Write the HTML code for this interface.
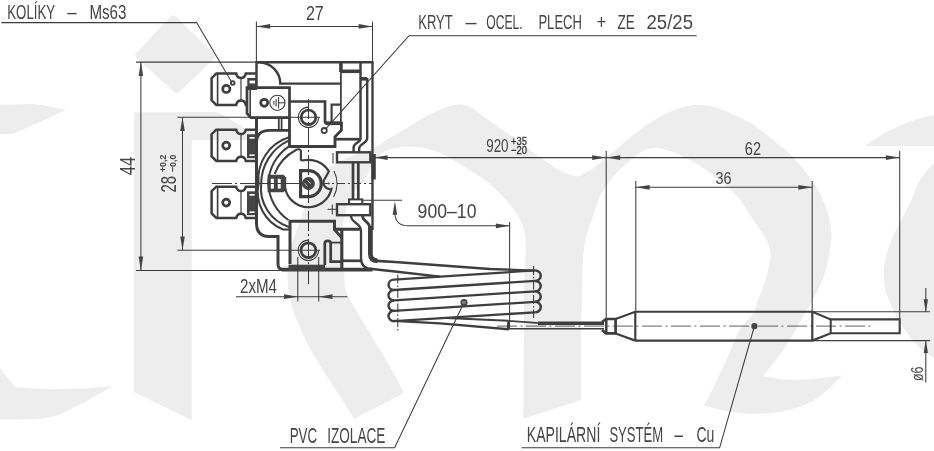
<!DOCTYPE html>
<html><head><meta charset="utf-8"><title>Termostat</title>
<style>
html,body{margin:0;padding:0;background:#fff}
svg{display:block}
text{font-family:"Liberation Sans",sans-serif;fill:#444}
.wm{fill:#ededed;stroke:none}
.k{fill:none;stroke:#3e3e3e;stroke-linecap:butt;stroke-linejoin:miter}
.t{fill:none;stroke:#3c3c3c;stroke-width:1.05}
.f{fill:#444;stroke:none}
.wf{fill:#fff;stroke:none}
</style></head><body>
<svg width="934" height="451" viewBox="0 0 934 451">
<rect width="934" height="451" fill="#fff"/>
<g class="wm">
<path d="M0,105 L30,104 Q50,105.5 66,110 L40,122 Q25,129 12,134 L0,134.3 Z"/>
<path d="M0,368 L15,386.9 C40,389.5 80,390 111.7,385.9 C95,397 70,410 55.9,415.8 C45,419 30,419.8 0,419.8 Z"/>
<path d="M136.5,53 L170.5,16.5 Q173,14 175.7,16.5 L214,53.5 Q216.5,56 214,58.8 L179,92 Q176.5,94.5 174,92 L136.5,58 Q134,55.5 136.5,53 Z"/>
<path d="M134.2,112.2 L218.5,112.2 L263.5,140.1 L191.8,140.1 L191.8,420.3 L134.2,392.2 Z"/>
<path d="M354.3,418.8 C348.4,409.6 327.7,378.1 318.8,363.3 C309.9,348.5 305.8,340.7 301.0,330.0 C296.2,319.3 292.2,308.8 290.0,299.0 C287.8,289.2 287.5,279.2 287.5,271.0 C287.5,262.8 288.8,256.0 290.0,250.0 C291.2,244.0 293.3,239.8 295.0,235.0 C296.7,230.2 298.3,225.7 300.0,221.0 C301.7,216.3 303.2,211.7 305.0,207.0 C306.8,202.3 307.5,199.2 311.0,193.0 C314.5,186.8 319.5,176.0 326.0,170.0 C332.5,164.0 342.1,160.6 350.0,157.0 C357.9,153.4 367.2,151.1 373.5,148.2 C379.8,145.2 382.4,142.6 387.7,139.3 C393.0,136.1 399.6,132.2 405.5,128.7 C411.4,125.1 417.3,121.2 423.2,118.0 C429.1,114.8 436.0,111.3 441.0,109.2 C446.0,107.1 449.9,106.0 453.4,105.3 C456.9,104.6 459.2,104.4 462.2,104.8 C465.1,105.2 467.6,105.5 471.1,107.4 C474.7,109.3 479.6,113.5 483.5,116.3 C487.4,119.1 490.1,121.3 494.2,124.3 C498.3,127.2 502.4,129.7 508.4,134.0 C514.4,138.3 522.0,144.3 530.0,150.0 C538.0,155.7 549.6,164.3 556.4,168.4 C563.2,172.5 568.2,173.6 570.6,174.7 L577.7,176.5 C580.2,175.2 588.2,171.7 593.0,168.5 C597.8,165.3 601.8,161.2 606.2,157.5 C610.6,153.8 614.5,150.7 619.5,146.5 C624.5,142.3 630.7,136.8 636.2,132.5 C641.8,128.2 647.3,124.4 652.8,121.0 C658.3,117.6 663.9,114.4 669.4,112.0 C674.9,109.6 681.6,107.8 686.0,106.6 C690.4,105.4 692.1,105.1 696.0,105.0 C699.9,104.9 704.3,105.0 709.3,106.0 C714.3,107.0 718.7,107.9 726.0,111.0 C733.3,114.1 744.7,119.3 753.0,124.6 C761.3,129.8 769.5,137.3 776.0,142.5 C782.5,147.7 785.6,149.1 792.0,156.0 C798.4,162.9 808.8,175.2 814.5,184.0 C820.2,192.8 823.7,201.0 826.5,209.0 C829.3,217.0 830.8,225.0 831.3,232.0 C831.8,239.0 830.5,245.1 829.7,251.0 C828.9,256.9 828.0,262.3 826.5,267.7 C825.0,273.1 823.4,277.8 821.0,283.3 C818.6,288.9 815.0,295.5 812.0,301.0 C809.0,306.5 806.2,311.3 803.2,316.5 C800.2,321.7 797.6,326.4 794.3,332.0 C791.0,337.6 788.5,342.6 783.3,350.0 C778.0,357.4 766.2,371.9 762.8,376.3 C766.7,376.9 778.1,379.3 786.0,379.8 C793.9,380.3 800.7,379.9 810.0,379.2 C819.3,378.5 836.7,376.1 842.0,375.5 C839.7,377.8 833.3,385.0 828.0,389.5 C822.7,394.0 817.0,398.8 810.0,402.3 C803.0,405.8 794.1,408.8 785.8,410.7 C777.4,412.6 769.2,413.5 759.9,413.7 C750.6,413.9 739.3,413.0 730.0,411.7 C720.7,410.4 708.6,406.6 704.3,405.6 C706.6,401.0 713.7,386.9 718.0,378.0 C722.3,369.1 726.5,359.8 730.0,352.0 C733.5,344.2 735.3,337.3 739.0,331.0 C742.7,324.7 749.1,319.3 752.2,314.3 C755.3,309.3 755.8,306.2 757.8,301.0 C759.8,295.8 762.6,288.9 764.4,283.3 C766.2,277.8 767.8,272.6 768.8,267.7 C769.8,262.8 770.7,258.3 770.5,254.0 C770.3,249.7 769.4,246.0 767.5,241.7 C765.6,237.4 762.0,232.6 759.0,228.0 C756.0,223.4 752.8,218.9 749.5,214.0 C746.2,209.1 742.9,203.2 739.0,198.5 C735.1,193.8 730.9,190.3 726.0,186.0 C721.1,181.7 715.8,176.8 709.7,172.5 C703.7,168.2 696.4,163.6 689.7,160.0 C683.1,156.4 675.8,153.0 669.8,151.0 C663.8,149.0 658.8,147.7 653.8,148.0 C648.8,148.3 644.6,150.3 640.0,153.0 C635.4,155.7 630.7,159.8 626.0,164.0 C621.3,168.2 616.3,172.7 612.0,178.0 C607.7,183.3 603.1,189.7 600.0,195.8 C596.9,201.9 595.9,207.8 593.6,214.5 C591.4,221.2 588.3,228.6 586.5,235.7 C584.7,242.8 583.8,246.3 583.0,257.0 C582.2,267.7 582.3,287.8 582.0,300.0 C581.7,312.2 581.2,313.3 581.0,330.0 C580.8,346.7 581.0,388.3 581.0,400.0 L523.5,418.7 C523.6,398.9 523.7,327.5 524.0,300.0 C524.3,272.5 525.4,264.8 525.5,253.5 C525.6,242.2 525.9,238.5 524.5,232.0 C523.1,225.5 521.0,220.4 517.4,214.5 C513.8,208.6 508.3,202.4 503.0,196.7 C497.7,191.0 491.1,184.9 485.5,180.5 C479.9,176.1 473.4,172.7 469.3,170.0 C465.2,167.3 463.6,166.1 461.0,164.5 C458.4,162.9 456.7,162.0 453.4,160.2 C450.1,158.4 445.1,155.3 441.0,153.5 C436.9,151.7 432.9,150.2 428.5,149.1 C424.1,148.0 418.7,147.3 414.3,147.0 C409.9,146.7 406.1,146.6 402.0,147.0 C397.9,147.4 393.3,148.4 390.0,149.5 C386.7,150.6 384.7,151.4 382.0,153.5 C379.3,155.6 376.8,157.8 374.0,162.0 C371.2,166.2 369.5,172.5 365.5,178.5 C361.5,184.5 353.8,190.2 350.0,198.0 C346.2,205.8 344.3,216.3 343.0,225.0 C341.7,233.7 341.8,242.3 342.0,250.0 C342.2,257.7 343.4,264.3 344.0,271.0 C344.6,277.7 344.2,284.7 345.5,290.0 C346.8,295.3 348.6,296.8 352.0,303.0 C355.4,309.2 360.4,317.7 366.0,327.0 C371.6,336.3 379.0,347.8 385.4,358.8 C391.8,369.8 401.1,387.1 404.3,392.8 Z"/>
<path d="M934,115 C907,120 884,132 864.6,146 L934,146 Z"/>
<path d="M934.0,163.0 C931.7,165.8 924.0,173.3 920.0,180.0 C916.0,186.7 914.7,193.2 910.0,203.0 C905.3,212.8 896.2,229.2 892.0,239.0 C887.8,248.8 886.3,256.0 885.0,262.0 C883.7,268.0 883.7,269.5 884.0,275.0 C884.3,280.5 884.3,287.2 887.0,295.0 C889.7,302.8 895.0,313.7 900.0,322.0 C905.0,330.3 911.3,339.0 917.0,345.0 C922.7,351.0 931.2,355.8 934.0,358.0 Z"/>
</g>
<g id="body">
<path class="k" stroke-width="2.52" d="M256,73.6 L245.8,73.6 C244.5,79.4 237.5,79.4 236.2,73.6 L216.3,73.6 L211.6,78.2 L211.6,100.3 L216.3,104.9 L236.2,104.9 C237.5,99.1 244.5,99.1 245.8,104.9 L247,104.9" />
<path class="k" stroke-width="1.63" d="M217.6,73.6 L217.6,104.9"/>
<path class="k" stroke-width="1.22" d="M241.0,77.8 L241.0,100.7"/>
<rect class="f" x="247.3" y="78.0" width="9.7" height="12.0"/>
<rect class="wf" x="249.5" y="80.6" width="5.8" height="2.8"/>
<circle class="k" stroke-width="2.72" cx="226.3" cy="88.9" r="3.6"/>
<circle class="k" stroke-width="1.90" cx="232.7" cy="82.9" r="1.8"/>
<path class="k" stroke-width="2.52" d="M256,129.7 L245.8,129.7 C244.5,135.5 237.5,135.5 236.2,129.7 L216.3,129.7 L211.6,134.2 L211.6,156.4 L216.3,161.0 L236.2,161.0 C237.5,155.2 244.5,155.2 245.8,161.0 L256,161.0" />
<path class="k" stroke-width="1.63" d="M217.6,129.7 L217.6,161.0"/>
<path class="k" stroke-width="1.22" d="M241.0,133.8 L241.0,156.8"/>
<rect class="f" x="247.0" y="134.3" width="9.5" height="23.9"/>
<rect class="wf" x="249.5" y="137.0" width="5.1" height="1.7"/>
<rect class="wf" x="249.5" y="154.4" width="5.1" height="1.6"/>
<circle class="k" stroke-width="2.72" cx="226.2" cy="145.6" r="3.5"/>
<path class="k" stroke-width="2.52" d="M256,186.7 L245.8,186.7 C244.5,192.5 237.5,192.5 236.2,186.7 L216.3,186.7 L211.6,191.2 L211.6,213.4 L216.3,218.0 L236.2,218.0 C237.5,212.2 244.5,212.2 245.8,218.0 L256,218.0" />
<path class="k" stroke-width="1.63" d="M217.6,186.7 L217.6,218.0"/>
<path class="k" stroke-width="1.22" d="M241.0,190.8 L241.0,213.8"/>
<rect class="f" x="247.0" y="191.3" width="9.5" height="23.9"/>
<rect class="wf" x="249.5" y="194.0" width="5.1" height="1.7"/>
<rect class="wf" x="249.5" y="211.4" width="5.1" height="1.6"/>
<circle class="k" stroke-width="2.72" cx="226.2" cy="202.6" r="3.5"/>
<path class="k" stroke-width="2.45" d="M256.5,88 L256.5,62.3 L260,62.3 A22,21.3 0 0 1 280.3,83.6 L340.9,83.6" />
<path class="k" stroke-width="2.58" d="M256.0,62.3 L373.3,62.3"/>
<path class="k" stroke-width="2.38" d="M372.5,61.5 L372.5,230.0"/>
<path class="k" stroke-width="3.54" d="M340.9,62.3 L340.9,72.0"/>
<path class="k" stroke-width="1.77" d="M340.9,72.0 L340.9,127.0"/>
<path class="k" stroke-width="3.54" d="M340.9,71.3 L361.0,71.3"/>
<path class="k" stroke-width="2.45" d="M360.5,62.3 L360.5,138.6 C360.5,143 353.6,142.5 353.6,147.5 L353.6,152" />
<path class="k" stroke-width="3.54" d="M360.5,78.8 L367.2,78.8" />
<path class="k" stroke-width="2.38" d="M367.2,78 L367.2,138.6 C367.2,143.5 359.2,143.5 359.2,148.5 L359.2,152" />
<path class="k" stroke-width="2.72" d="M247,87.6 L289.5,87.6 L289.5,117.6 L251,117.6 L247,113.5 Z" />
<path class="k" stroke-width="1.63" d="M250.2,87.6 L250.2,116.0"/>
<circle class="k" stroke-width="2.72" cx="264.2" cy="102.8" r="3.5"/>
<circle class="t" cx="277.4" cy="102.8" r="7.6"/>
<path class="t" d="M273.9,100.8 L273.9,104.8"/>
<path class="t" d="M276.1,99.1 L276.1,106.5"/>
<path class="t" d="M278.6,97.1 L278.6,108.5"/>
<path class="t" d="M278.6,102.8 L285.0,102.8"/>
<path class="k" stroke-width="2.86" d="M289.5,117 L289.5,146.5 L335,146.5 L335,136.8 L341.4,130.2 L341.4,122" />
<path class="k" stroke-width="2.72" d="M289.5,101.5 L325,101.5 L325,121.5 Q325,123.6 327.5,123.6 L341.4,123.6" />
<path class="k" stroke-width="3.81" d="M326.0,123.2 L342.3,123.2"/>
<path class="k" stroke-width="2.18" d="M331.6,122 L331.6,104.7 L341,104.7" />
<path class="k" stroke-width="2.72" d="M335.0,139.2 L361.0,139.2"/>
<circle class="k" stroke-width="2.72" cx="308.5" cy="117.3" r="7.3"/>
<path class="t" d="M308.5,107.1 A10.2,10.2 0 1 0 318.7,117.3"/>
<circle class="k" stroke-width="1.77" cx="324.2" cy="130.6" r="2.6"/>
<path class="k" stroke-width="2.99" d="M256.5,117 L256.5,223 Q256.5,236.4 269,236.4 L278,236.4 L278,264 Q278,269.5 283,269.5" />
<path class="k" stroke-width="2.72" d="M256.5,143 Q256.5,130.3 269.5,130.3 L289.5,130.3" />
<path class="k" stroke-width="1.77" d="M278.8,118.0 L278.8,130.3"/>
<path class="k" stroke-width="1.77" d="M281.6,118.0 L281.6,130.3"/>
<path class="k" stroke-width="2.04" d="M289.00,137.30 A43.55,43.55 0 0 0 258.60,183.50 A40.66,40.66 0 0 0 283.00,229.50 L290,229.5" />
<path class="k" stroke-width="2.04" d="M288.60,140.60 A47.59,47.59 0 0 0 261.20,183.50 A40.71,40.71 0 0 0 289.00,227.00" />
<path class="k" stroke-width="2.04" d="M288.60,146.60 A46.19,46.19 0 0 0 268.30,183.50 A46.13,46.13 0 0 0 288.50,220.00" />
<path class="k" stroke-width="2.04" d="M300.90,150.30 A4.11,4.11 0 0 0 296.00,150.00 A45.14,45.14 0 0 0 274.60,174.00" />
<path class="f" d="M267.6,174.8 L283.5,174.8 L286.2,177.5 L286.2,189.5 L283.5,192.3 L267.6,192.3 Z"/>
<rect class="wf" x="270.8" y="178.8" width="3.1" height="9.8"/>
<rect class="wf" x="277.8" y="178.8" width="2.9" height="9.8"/>
<path class="k" stroke-width="2.18" d="M300.9,150.3 L300.9,159.3 Q301,160.6 303.7,160.3 A23.7,23.7 0 0 1 328.8,171.4 L324.7,178.9 A6.4,6.4 0 0 0 331.5,188.8 A23.7,23.7 0 0 1 285.1,188.0" />
<circle class="f" cx="328.8" cy="183.5" r="0.9"/>
<path class="k" stroke-width="3.2" stroke-linejoin="miter" d="M300.6,170.7 L300.6,196.6 L308.3,196.6 A12.95,12.95 0 0 0 308.3,170.7 Z"/>
<circle cx="308.4" cy="183.5" r="6.5" fill="#444"/>
<path d="M307.6,180.6 L310.6,183.8 M304.6,183.2 L307.4,186.4" stroke="#c8c8c8" stroke-width="1.0" fill="none"/>
<path class="t" d="M334.0,171.0 A28.5,28.5 0 0 1 333.6,196.9"/>
<rect class="k" stroke-width="2.4" x="337" y="152.3" width="33.3" height="10"/>
<path class="k" stroke-width="4.35" d="M373.6,154.0 L373.6,179.5"/>
<path class="k" stroke-width="2.72" d="M353.0,162.3 L353.0,199.3"/>
<path class="k" stroke-width="2.72" d="M358.3,162.3 L358.3,199.3"/>
<rect class="k" stroke-width="2.0" x="349" y="199.4" width="13.3" height="4.6"/>
<rect class="k" stroke-width="2.4" x="337" y="204.2" width="33.3" height="11"/>
<path class="t" d="M327.5,209.3 L337.0,209.3"/>
<path class="t" d="M332.3,204.5 L332.3,214.6"/>
<path class="t" d="M333.0,153.0 L333.0,163.5"/>
<path class="k" stroke-width="2.31" d="M351,216 C351.5,224 361,222 361,231 L361,258 Q361,268.8 372,269 L395,271.5" />
<path class="k" stroke-width="2.72" d="M362.3,216 C363,222 369.4,221 369.9,228" />
<path class="k" stroke-width="4.76" d="M370.4,226 L370.4,254 Q370.4,260.4 377.5,260.9" />
<path class="k" stroke-width="2.72" d="M376,260.9 L395,262" />
<path class="k" stroke-width="2.99" d="M290,264 L290,221.3 L334.5,221.3 L334.5,229.3 L360.5,229.3" />
<path class="k" stroke-width="2.72" d="M334.8,230 L341.8,237.8" />
<path class="k" stroke-width="3.13" d="M341.8,229.0 L341.8,268.6"/>
<path class="k" stroke-width="2.72" d="M341.8,260.8 L361.0,260.8"/>
<path class="k" stroke-width="1.77" d="M331.0,242.6 L341.8,242.6"/>
<path class="k" stroke-width="2.72" d="M324.8,265 L324.8,243.5 Q324.8,240.8 327.7,240.8 Q330.7,240.8 330.7,243.5 L330.7,261.6 L341.8,261.6" />
<circle class="k" stroke-width="2.72" cx="308.4" cy="250.3" r="7.4"/>
<path class="t" d="M308.4,240.1 A10.2,10.2 0 1 0 318.6,250.3"/>
<path class="k" stroke-width="3.81" d="M281.5,269.7 L372.5,269.7"/>
<rect class="f" x="288.5" y="264.7" width="36.5" height="6.3"/>
</g>
<g id="coil">
<path class="k" stroke-width="2.31" d="M395,262 L490,269.0 L534.5,270.6" />
<path class="k" stroke-width="2.31" d="M395,271.5 L440,276.6" />
<path class="k" stroke-width="2.31" d="M394.0,279.6 L535.2,270.4" />
<path class="k" stroke-width="2.31" d="M394.0,290.0 L535.2,280.9" />
<path class="k" stroke-width="2.31" d="M394.0,300.4 L535.2,291.3" />
<path class="k" stroke-width="2.31" d="M394.0,310.8 L535.2,301.8" />
<path class="k" stroke-width="2.31" d="M394.0,321.2 L535.2,312.3" />
<path class="k" stroke-width="2.45" d="M394.0,279.6 A5.5,5.2 0 0 0 394.0,290.0" />
<path class="k" stroke-width="2.45" d="M535.2,270.4 A5.5,5.2 0 0 1 535.2,280.9" />
<path class="k" stroke-width="2.45" d="M394.0,290.0 A5.5,5.2 0 0 0 394.0,300.4" />
<path class="k" stroke-width="2.45" d="M535.2,280.9 A5.5,5.2 0 0 1 535.2,291.3" />
<path class="k" stroke-width="2.45" d="M394.0,300.4 A5.5,5.2 0 0 0 394.0,310.8" />
<path class="k" stroke-width="2.45" d="M535.2,291.3 A5.5,5.2 0 0 1 535.2,301.8" />
<path class="k" stroke-width="2.45" d="M394.0,310.8 A5.5,5.2 0 0 0 394.0,321.2" />
<path class="k" stroke-width="2.45" d="M535.2,301.8 A5.5,5.2 0 0 1 535.2,312.3" />
<path class="t" d="M397.8,274.5 L397.8,331.5" stroke-dasharray="9 2 1.5 2"/>
<path class="t" d="M533.6,266.0 L533.6,318.0" stroke-dasharray="9 2 1.5 2"/>
<path class="k" stroke-width="2.04" d="M446,318.1 L508.5,320.8" />
<path class="k" stroke-width="2.18" d="M394,320.9 L440,323.3 L507.8,329.2 L508.4,320.8" />
<path class="k" stroke-width="1.77" d="M508.5,320.9 L540,323.1" />
<path class="k" stroke-width="3.40" d="M538.0,323.2 L604.0,323.2"/>
<path class="k" stroke-width="1.63" d="M507.5,328.8 L604.0,328.8"/>
<path d="M497,326.1 L873,326.1" fill="none" stroke="#444" stroke-width="0.85" stroke-dasharray="20 3.5 2 3.5"/>
<path class="k" stroke-width="2.72" d="M602,322 L606,319 L615.6,319 L615.6,333.4 L606,333.4 L602,330" />
<path class="k" stroke-width="2.45" d="M606.3,319.0 L606.3,333.4"/>
<path class="k" stroke-width="2.11" d="M615.6,319 L635.3,311.8 L812.3,311.8 L830.7,319.4 L899.7,319.4 L899.7,333.2 L830.7,333.2 L812.3,340.6 L635.3,340.6 L615.6,333.4" />
<path class="k" stroke-width="2.18" d="M635.3,311.8 L635.3,340.6"/>
<path class="k" stroke-width="2.18" d="M812.3,311.8 L812.3,340.6"/>
<path class="k" stroke-width="2.04" d="M830.7,319.4 L830.7,333.2"/>
<circle class="k" stroke-width="1.90" cx="464.0" cy="302.5" r="2.6"/>
<circle cx="464" cy="302.5" r="1.8" fill="#777"/>
<circle class="f" cx="754.4" cy="326.2" r="3.1"/>
</g>
<g id="dims">
<path class="t" d="M308.5,99.0 L308.5,284.0" stroke-dasharray="20 3 2 3"/>
<path class="t" d="M177.4,117.2 L320.0,117.2"/>
<path class="t" d="M212.0,183.5 L256.0,183.5" stroke-dasharray="20 3 2 3"/>
<path class="t" d="M259.0,183.5 L300.0,183.5"/>
<path class="t" d="M321.0,183.5 L372.0,183.5" stroke-dasharray="8 3 2 3"/>
<path class="t" d="M177.4,250.3 L320.0,250.3"/>
<path class="t" d="M256.4,21.6 L256.4,62.0"/>
<path class="t" d="M372.5,21.6 L372.5,62.0"/>
<path class="t" d="M256.4,26.4 L372.5,26.4"/>
<path class="f" d="M256.4,26.4 L270.2,24.0 L270.2,28.8 Z"/>
<path class="f" d="M372.5,26.4 L358.7,28.8 L358.7,24.0 Z"/>
<path class="t" d="M136.0,62.1 L256.0,62.1"/>
<path class="t" d="M136.0,270.4 L281.0,270.4"/>
<path class="t" d="M140.9,62.0 L140.9,270.4"/>
<path class="f" d="M140.9,62.1 L143.2,75.9 L138.6,75.9 Z"/>
<path class="f" d="M140.9,270.4 L138.6,256.6 L143.2,256.6 Z"/>
<path class="t" d="M182.5,117.5 L182.5,250.2"/>
<path class="f" d="M182.5,117.3 L184.8,131.1 L180.2,131.1 Z"/>
<path class="f" d="M182.5,250.3 L180.2,236.5 L184.8,236.5 Z"/>
<path class="t" d="M297.8,257.0 L297.8,301.5"/>
<path class="t" d="M318.7,257.0 L318.7,301.5"/>
<path class="t" d="M236.0,296.7 L347.5,296.7"/>
<path class="f" d="M297.8,296.7 L284.0,299.1 L284.0,294.3 Z"/>
<path class="f" d="M318.7,296.7 L332.5,294.3 L332.5,299.1 Z"/>
<path class="t" d="M373.5,157.6 L899.7,157.6"/>
<path class="f" d="M373.8,157.6 L387.6,155.2 L387.6,159.9 Z"/>
<path class="f" d="M606.0,157.6 L592.2,159.9 L592.2,155.2 Z"/>
<path class="f" d="M606.4,157.6 L620.2,155.2 L620.2,159.9 Z"/>
<path class="f" d="M899.7,157.6 L885.9,159.9 L885.9,155.2 Z"/>
<path class="t" d="M606.2,151.0 L606.2,318.0"/>
<path class="t" d="M899.7,150.7 L899.7,319.0"/>
<path class="t" d="M635.8,181.0 L635.8,311.0"/>
<path class="t" d="M812.2,181.0 L812.2,311.0"/>
<path class="t" d="M635.8,187.3 L812.2,187.3"/>
<path class="f" d="M635.8,187.3 L649.6,185.0 L649.6,189.7 Z"/>
<path class="f" d="M812.2,187.3 L798.4,189.7 L798.4,185.0 Z"/>
<path class="t" d="M362.5,200.3 L402.0,200.3"/>
<path class="t" d="M394.9,214 C395.5,221 399,225.8 408,225.8 L509.7,225.8"/>
<path class="f" d="M394.9,201.2 L397.2,214.7 L392.6,214.7 Z"/>
<path class="f" d="M509.7,225.8 L495.9,228.2 L495.9,223.5 Z"/>
<path class="t" d="M509.6,222.0 L509.6,329.0"/>
<path class="t" d="M812.6,311.8 L930.0,311.8"/>
<path class="t" d="M812.6,340.6 L930.0,340.6"/>
<path class="t" d="M925.8,288.0 L925.8,312.0"/>
<path class="t" d="M925.8,340.6 L925.8,382.5"/>
<path class="f" d="M925.8,311.8 L923.6,299.3 L928.0,299.3 Z"/>
<path class="f" d="M925.8,340.6 L928.0,353.1 L923.6,353.1 Z"/>
<path class="t" d="M1.3,22.6 L196.6,22.6 L231.3,81.5"/>
<path class="t" d="M696.7,35.7 L409,35.7 L326,128.6"/>
<path class="t" d="M280,447.8 L394.6,447.8 L462.8,305"/>
<path class="t" d="M521.6,447.8 L719.6,447.8 L753.6,329"/>
</g>
<g id="txt" style="opacity:.995">
<text x="7.2" y="18.6" font-size="20.3" textLength="48.0" lengthAdjust="spacingAndGlyphs" >KOLÍKY</text>
<text x="67.3" y="18.6" font-size="20.3" textLength="9.3" lengthAdjust="spacingAndGlyphs" >–</text>
<text x="89.4" y="18.6" font-size="20.3" textLength="37.0" lengthAdjust="spacingAndGlyphs" >Ms63</text>
<text x="418.2" y="28.5" font-size="20.2" textLength="34.6" lengthAdjust="spacingAndGlyphs" >KRYT</text>
<text x="465.5" y="28.5" font-size="20.2" textLength="11.0" lengthAdjust="spacingAndGlyphs" >–</text>
<text x="486.3" y="28.5" font-size="20.2" textLength="36.4" lengthAdjust="spacingAndGlyphs" >OCEL.</text>
<text x="538.4" y="28.5" font-size="20.2" textLength="43.6" lengthAdjust="spacingAndGlyphs" >PLECH</text>
<text x="596.6" y="28.5" font-size="20.2" textLength="9.8" lengthAdjust="spacingAndGlyphs" >+</text>
<text x="617.4" y="28.5" font-size="20.2" textLength="17.4" lengthAdjust="spacingAndGlyphs" >ZE</text>
<text x="646.5" y="28.5" font-size="20.2" textLength="46.5" lengthAdjust="spacingAndGlyphs" >25/25</text>
<text x="289.7" y="442.5" font-size="21.5" textLength="27.5" lengthAdjust="spacingAndGlyphs" >PVC</text>
<text x="327.2" y="442.5" font-size="21.5" textLength="58.2" lengthAdjust="spacingAndGlyphs" >IZOLACE</text>
<text x="526.8" y="442.0" font-size="21.5" textLength="73.5" lengthAdjust="spacingAndGlyphs" >KAPILÁRNÍ</text>
<text x="609.4" y="442.0" font-size="21.5" textLength="53.8" lengthAdjust="spacingAndGlyphs" >SYSTÉM</text>
<text x="674.5" y="442.0" font-size="21.5" textLength="8.5" lengthAdjust="spacingAndGlyphs" >–</text>
<text x="696.5" y="442.0" font-size="21.5" textLength="17.9" lengthAdjust="spacingAndGlyphs" >Cu</text>
<text x="305.9" y="19.6" font-size="20.3" textLength="17.9" lengthAdjust="spacingAndGlyphs" >27</text>
<text x="240.0" y="293.0" font-size="20.3" textLength="37.0" lengthAdjust="spacingAndGlyphs" >2xM4</text>
<text x="486.2" y="151.8" font-size="17.8" textLength="22.4" lengthAdjust="spacingAndGlyphs" >920</text>
<text x="511.0" y="144.7" font-size="11" textLength="16.0" lengthAdjust="spacingAndGlyphs" style="fill:#333;stroke:#333;stroke-width:.3">+35</text>
<text x="511.0" y="154.4" font-size="11" textLength="16.0" lengthAdjust="spacingAndGlyphs" style="fill:#333;stroke:#333;stroke-width:.3">−20</text>
<text x="417.6" y="217.8" font-size="20.6" textLength="58.9" lengthAdjust="spacingAndGlyphs" >900–10</text>
<text x="744.8" y="155.0" font-size="17.5" textLength="16.2" lengthAdjust="spacingAndGlyphs" >62</text>
<text x="715.5" y="184.4" font-size="17" textLength="16.1" lengthAdjust="spacingAndGlyphs" >36</text>
<text transform="translate(134.6,175.3) rotate(-90)" font-size="22" textLength="18.7" lengthAdjust="spacingAndGlyphs" >44</text>
<text transform="translate(176.0,192.6) rotate(-90)" font-size="22" textLength="16.6" lengthAdjust="spacingAndGlyphs" >28</text>
<text transform="translate(166.4,172.0) rotate(-90)" font-size="9.6" textLength="17.3" lengthAdjust="spacingAndGlyphs" font-weight="bold">+0,2</text>
<text transform="translate(176.4,172.0) rotate(-90)" font-size="9.6" textLength="17.3" lengthAdjust="spacingAndGlyphs" font-weight="bold">−0,0</text>
<text transform="translate(923.0,381.0) rotate(-90)" font-size="16.5" textLength="14.5" lengthAdjust="spacingAndGlyphs" >ø6</text>
</g>
</svg>
</body></html>
